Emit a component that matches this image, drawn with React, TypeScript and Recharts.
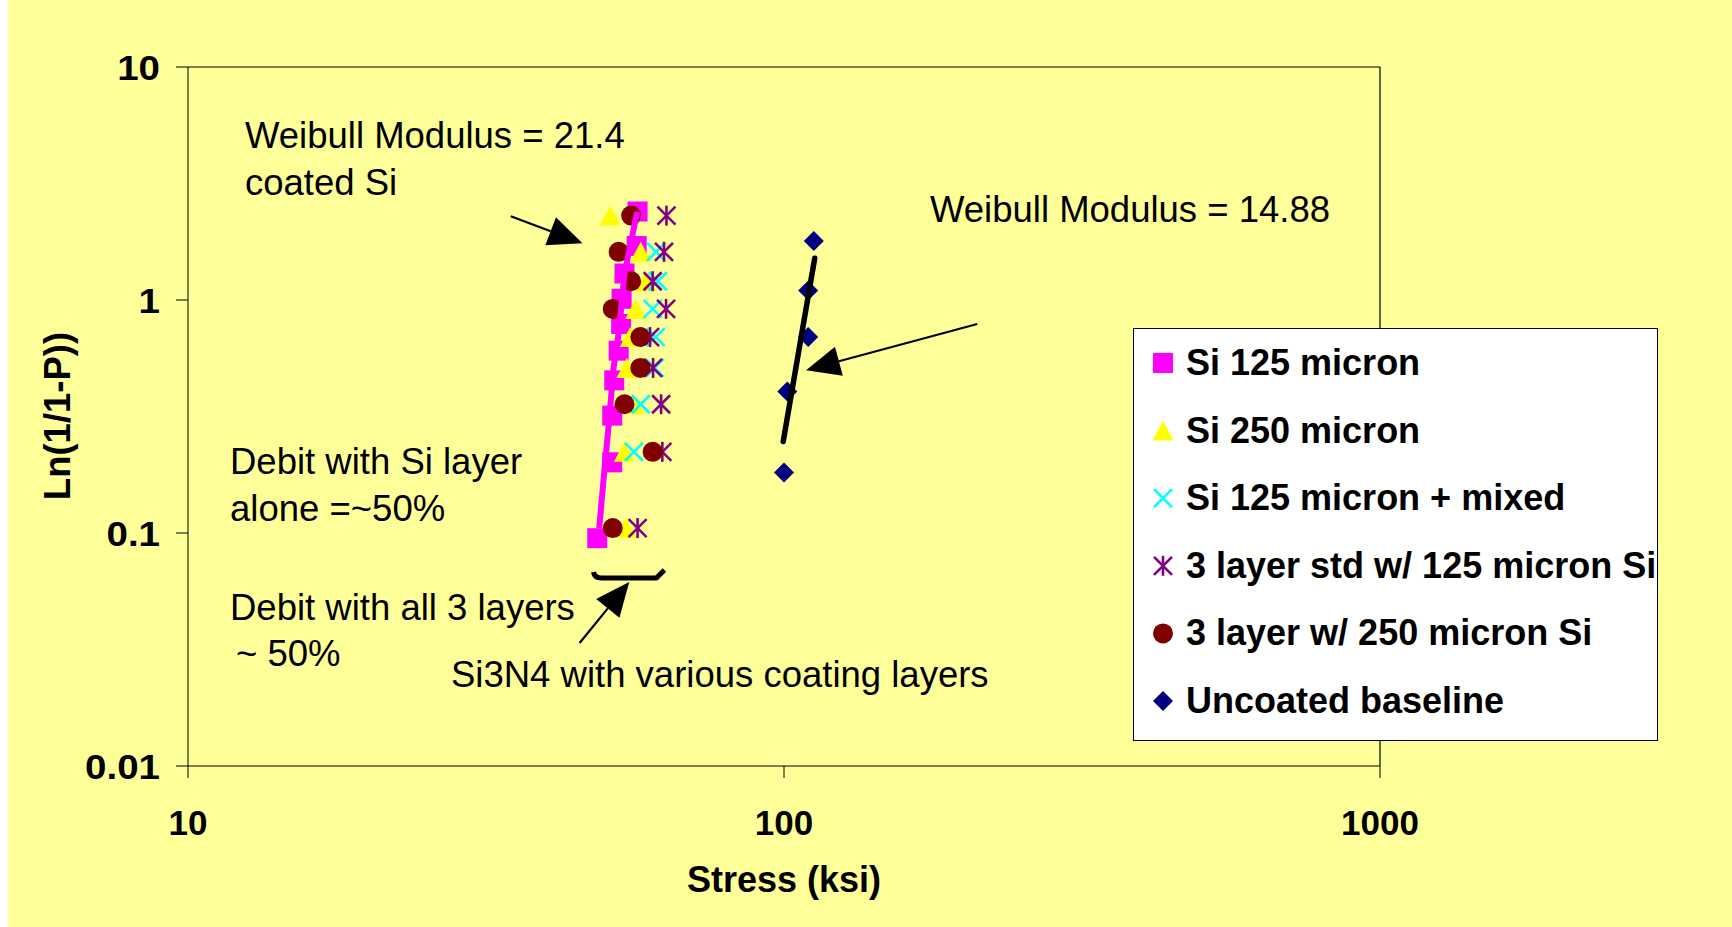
import React from 'react';
import { ScatterChart, Scatter, XAxis, YAxis, ReferenceLine } from 'recharts';

const FONT = '"Liberation Sans", Arial, Helvetica, sans-serif';
const BG = '#FFFF99';

// Weibull plot: stress (ksi) vs ln(1/(1-P)) for each coating variant
const si125Stress = [48.6, 51.5, 51.5, 51.9, 52.8, 53.3, 53.4, 54.0, 56.6, 56.8];
const si125Prob = [0.095, 0.201, 0.319, 0.452, 0.606, 0.789, 1.012, 1.299, 1.705, 2.398];

const si250Stress = [54.3, 54.0, 56.0, 54.5, 55.2, 56.4, 58.7, 57.5, 51.1];
const si250Prob = [0.105, 0.223, 0.357, 0.511, 0.693, 0.916, 1.204, 1.609, 2.303];

const mixedStress = [56.0, 57.5, 60.7, 60.9, 60.2, 61.4, 61.0];
const mixedProb = [0.223, 0.357, 0.511, 0.693, 0.916, 1.204, 1.609];

const std125Stress = [56.8, 62.5, 62.2, 60.3, 59.6, 63.4, 60.2, 62.9, 63.5];
const std125Prob = [0.105, 0.223, 0.357, 0.511, 0.693, 0.916, 1.204, 1.609, 2.303];

const layer250Stress = [51.6, 60.2, 54.0, 57.4, 57.4, 51.6, 55.4, 52.8, 55.4];
const layer250Prob = [0.105, 0.223, 0.357, 0.511, 0.693, 0.916, 1.204, 1.609, 2.303];

const baselineStress = [100.0, 101.3, 109.8, 109.8, 112.2];
const baselineProb = [0.182, 0.405, 0.693, 1.099, 1.792];

// Weibull fit traces (coated Si, m = 21.4; uncoated, m = 14.88)
const coatedFitStress = [48.98, 49.96, 50.9, 51.7, 52.9, 53.95, 56.7];
const coatedFitProb = [0.105, 0.186, 0.305, 0.5, 0.743, 1.28, 2.39];
const uncoatedFitStress = [99.7, 112.6];
const uncoatedFitProb = [0.247, 1.51];

const xTicks = [10, 100, 1000];
const yTicks = [0.01, 0.1, 1, 10];

const seriesNames = [
  'Si 125 micron',
  'Si 250 micron',
  'Si 125 micron + mixed',
  '3 layer std w/ 125 micron Si',
  '3 layer w/ 250 micron Si',
  'Uncoated baseline',
];

const zip = (xs: number[], ys: number[]) => xs.map((x, i) => ({ x, y: ys[i] }));

const COLORS = {
  square: '#FF00FF',
  triangle: '#FFFF00',
  cross: '#00FFFF',
  star: '#800080',
  circle: '#800000',
  diamond: '#000080',
};

type Kind = keyof typeof COLORS;

function Marker({ kind, cx, cy, s = 10 }: { kind: Kind; cx: number; cy: number; s?: number }) {
  const c = COLORS[kind];
  switch (kind) {
    case 'square':
      return <rect x={cx - s} y={cy - s} width={2 * s} height={2 * s} fill={c} />;
    case 'triangle':
      return <polygon points={`${cx},${cy - s} ${cx + s + 0.5},${cy + s} ${cx - s - 0.5},${cy + s}`} fill={c} />;
    case 'cross':
      return (
        <g stroke={c} strokeWidth={2.6}>
          <line x1={cx - s + 1} y1={cy - s + 1} x2={cx + s - 1} y2={cy + s - 1} />
          <line x1={cx - s + 1} y1={cy + s - 1} x2={cx + s - 1} y2={cy - s + 1} />
        </g>
      );
    case 'star':
      return (
        <g stroke={c} strokeWidth={2.6}>
          <line x1={cx - s + 1} y1={cy - s + 1} x2={cx + s - 1} y2={cy + s - 1} />
          <line x1={cx - s + 1} y1={cy + s - 1} x2={cx + s - 1} y2={cy - s + 1} />
          <line x1={cx} y1={cy - s} x2={cx} y2={cy + s} />
        </g>
      );
    case 'circle':
      return <circle cx={cx} cy={cy} r={s} fill={c} />;
    case 'diamond':
      return <polygon points={`${cx},${cy - s} ${cx + s},${cy} ${cx},${cy + s} ${cx - s},${cy}`} fill={c} />;
  }
  return null;
}

const shapeOf = (kind: Kind) => (p: any) => <Marker kind={kind} cx={p.cx} cy={p.cy} />;
const noShape = () => <g />;

const legendKinds: Kind[] = ['square', 'triangle', 'cross', 'star', 'circle', 'diamond'];

// Arrow drawn from a reference segment: tail at first point, head at second
const Arrow = (p: any) => {
  const { x1, y1, x2, y2 } = p;
  const dx = x2 - x1;
  const dy = y2 - y1;
  const len = Math.hypot(dx, dy);
  const ux = dx / len;
  const uy = dy / len;
  const headL = 34;
  const headW = 15;
  const bx = x2 - ux * headL;
  const by = y2 - uy * headL;
  return (
    <g>
      <line x1={x1} y1={y1} x2={bx} y2={by} stroke="#000" strokeWidth={2.2} />
      <polygon
        points={`${x2},${y2} ${bx - uy * headW},${by + ux * headW} ${bx + uy * headW},${by - ux * headW}`}
        fill="#000"
      />
    </g>
  );
};

// Bracket under the coated cluster
const Brace = (p: any) => {
  const { x1, y1, x2 } = p;
  const d = `M ${x1} ${y1 - 6} Q ${x1 + 1} ${y1} ${x1 + 8} ${y1} L ${x2 - 8} ${y1} L ${x2} ${y1 - 8}`;
  return <path d={d} stroke="#000" strokeWidth={5} fill="none" strokeLinejoin="round" />;
};

const YTick = (p: any) => (
  <text
    x={0}
    y={0}
    dy="0.36em"
    textAnchor="end"
    transform={`translate(${p.x} ${p.y}) scale(1.1 1)`}
    fontFamily={FONT}
    fontWeight="bold"
    fontSize={35}
    fill="#000"
  >
    {p.payload.value}
  </text>
);

const XTick = (p: any) => (
  <text x={p.x} y={p.y} dy="0.71em" textAnchor="middle" fontFamily={FONT} fontWeight="bold" fontSize={35} fill="#000">
    {p.payload.value}
  </text>
);

const notes = [
  { x: 245, y: 148, text: 'Weibull Modulus = 21.4' },
  { x: 245, y: 195, text: 'coated Si' },
  { x: 930, y: 222, text: 'Weibull Modulus = 14.88' },
  { x: 230, y: 474, text: 'Debit with Si layer' },
  { x: 230, y: 521, text: 'alone =~50%' },
  { x: 230, y: 620, text: 'Debit with all 3 layers' },
  { x: 236, y: 666, text: '~ 50%' },
  { x: 451, y: 687, text: 'Si3N4 with various coating layers' },
];

export default function App() {
  return (
    <div style={{ position: 'absolute', left: 0, top: 0, width: 1732, height: 927, background: '#fff' }}>
      <div style={{ position: 'absolute', left: 8, top: 0, width: 1724, height: 927, background: BG }} />
      <div style={{ position: 'absolute', left: 0, top: 0 }}>
        <ScatterChart width={1732} height={927} margin={{ top: 67, right: 352, bottom: 101, left: 88 }}>
          <XAxis
            type="number"
            dataKey="x"
            scale="log"
            domain={[10, 1000]}
            ticks={xTicks}
            allowDataOverflow
            height={60}
            tickSize={12}
            tickMargin={32}
            stroke="#000"
            tick={<XTick />}
          />
          <YAxis
            type="number"
            dataKey="y"
            scale="log"
            domain={[0.01, 10]}
            ticks={yTicks}
            allowDataOverflow
            width={100}
            tickSize={12}
            tickMargin={16}
            stroke="#000"
            tick={<YTick />}
          />
          <ReferenceLine y={10} stroke="#000" strokeWidth={1.2} />
          <ReferenceLine x={1000} stroke="#000" strokeWidth={1.2} />

          <Scatter data={zip(si125Stress, si125Prob)} shape={shapeOf('square')} isAnimationActive={false} />
          <Scatter data={zip(si250Stress, si250Prob)} shape={shapeOf('triangle')} isAnimationActive={false} />
          <Scatter data={zip(mixedStress, mixedProb)} shape={shapeOf('cross')} isAnimationActive={false} />
          <Scatter data={zip(std125Stress, std125Prob)} shape={shapeOf('star')} isAnimationActive={false} />
          <Scatter data={zip(layer250Stress, layer250Prob)} shape={shapeOf('circle')} isAnimationActive={false} />
          <Scatter data={zip(baselineStress, baselineProb)} shape={shapeOf('diamond')} isAnimationActive={false} />

          <Scatter
            data={zip(coatedFitStress, coatedFitProb)}
            line={{ stroke: '#FF00FF', strokeWidth: 6, strokeLinejoin: 'round' }}
            shape={noShape}
            isAnimationActive={false}
          />
          <Scatter
            data={zip(uncoatedFitStress, uncoatedFitProb)}
            line={{ stroke: '#000', strokeWidth: 5.5, strokeLinecap: 'round' }}
            shape={noShape}
            isAnimationActive={false}
          />

          <ReferenceLine segment={[{ x: 34.8, y: 2.29 }, { x: 45.9, y: 1.75 }]} shape={Arrow} />
          <ReferenceLine segment={[{ x: 211, y: 0.789 }, { x: 108.9, y: 0.5 }]} shape={Arrow} />
          <ReferenceLine segment={[{ x: 45.4, y: 0.0337 }, { x: 55.0, y: 0.0616 }]} shape={Arrow} />
          <ReferenceLine segment={[{ x: 47.9, y: 0.0641 }, { x: 63.0, y: 0.0641 }]} shape={Brace} />
        </ScatterChart>
      </div>

      <svg width={1732} height={927} style={{ position: 'absolute', left: 0, top: 0, pointerEvents: 'none' }}>
        {notes.map((n) => (
          <text key={n.text} x={n.x} y={n.y} fontFamily={FONT} fontSize={36.5} fill="#000">
            {n.text}
          </text>
        ))}
        <text x={784} y={892} textAnchor="middle" fontFamily={FONT} fontWeight="bold" fontSize={36} fill="#000">
          Stress (ksi)
        </text>
        <text
          x={0}
          y={0}
          transform="translate(70 416) rotate(-90)"
          textAnchor="middle"
          fontFamily={FONT}
          fontWeight="bold"
          fontSize={36.5}
          fill="#000"
        >
          Ln(1/1-P))
        </text>
      </svg>

      <div
        style={{
          position: 'absolute',
          left: 1133,
          top: 328,
          width: 523,
          height: 411,
          background: '#fff',
          border: '1px solid #000',
          overflow: 'visible',
        }}
      >
        <svg width={560} height={411} style={{ position: 'absolute', left: 0, top: 0, overflow: 'visible' }}>
          {seriesNames.map((name, i) => {
            const base = 46 + i * 67.6;
            return (
              <g key={name}>
                <Marker kind={legendKinds[i]} cx={29} cy={base - 12} s={10} />
                <text x={52} y={base} fontFamily={FONT} fontWeight="bold" fontSize={36} fill="#000">
                  {name}
                </text>
              </g>
            );
          })}
        </svg>
      </div>
    </div>
  );
}
